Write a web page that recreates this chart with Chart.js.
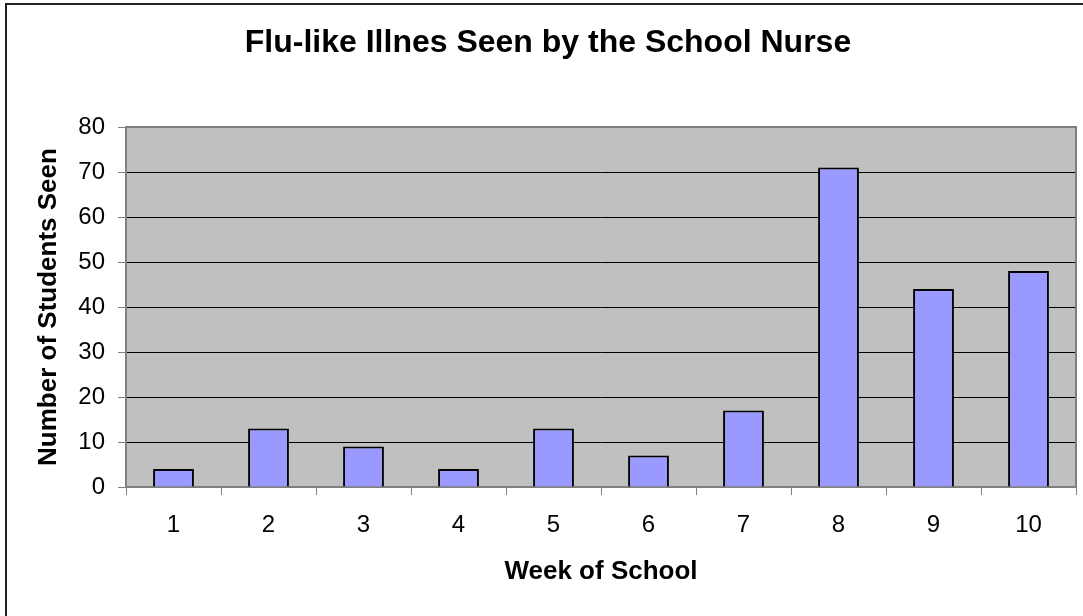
<!DOCTYPE html>
<html>
<head>
<meta charset="utf-8">
<script src="https://cdn.jsdelivr.net/npm/chart.js@4"></script>
<style>
html,body{margin:0;padding:0;background:#fff;overflow:hidden;}
#wrap{position:relative;width:1083px;height:616px;}
#frame{position:absolute;left:5px;top:3px;width:2000px;height:2000px;border:2px solid #222;box-sizing:border-box;pointer-events:none;}
canvas{position:absolute;left:0;top:0;}
</style>
</head>
<body>
<div id="wrap">
<canvas id="c" width="1083" height="616"></canvas>
<div id="frame"></div>
</div>
<script>
const weeks = ['1','2','3','4','5','6','7','8','9','10'];
const studentsSeen = [4, 13, 9, 4, 13, 7, 17, 71, 44, 48];
const yTicks = [0, 10, 20, 30, 40, 50, 60, 70, 80];

const FONT = "'Liberation Sans', Arial, sans-serif";

const plotBg = {
  id: 'plotBg',
  beforeDraw(chart) {
    const {ctx, chartArea: a} = chart;
    ctx.save();
    ctx.fillStyle = '#C0C0C0';
    ctx.fillRect(a.left, a.top, a.right - a.left, a.bottom - a.top);
    ctx.restore();
  },
  afterDatasetsDraw(chart) {
    const {ctx, chartArea: a} = chart;
    ctx.save();
    ctx.strokeStyle = '#808080';
    ctx.lineWidth = 2;
    ctx.beginPath();
    ctx.moveTo(a.left, a.top);
    ctx.lineTo(a.right, a.top);
    ctx.lineTo(a.right, a.bottom);
    ctx.stroke();
    ctx.restore();
  }
};

new Chart(document.getElementById('c'), {
  type: 'bar',
  data: {
    labels: weeks,
    datasets: [{
      data: studentsSeen,
      backgroundColor: '#9999FF',
      borderColor: '#000000',
      borderWidth: 2,
      barPercentage: 0.43,
      categoryPercentage: 1.0
    }]
  },
  options: {
    responsive: false,
    animation: false,
    devicePixelRatio: 1,
    layout: { padding: { left: 20, right: 7, top: 0, bottom: 0 } },
    plugins: {
      legend: { display: false },
      tooltip: { enabled: false },
      title: {
        display: true,
        text: 'Flu-like Illnes Seen by the School Nurse',
        color: '#000',
        font: { family: FONT, size: 32, weight: 'bold' },
        padding: { top: 24, bottom: 64.6 }
      }
    },
    scales: {
      x: {
        offset: true,
        grid: {
          offset: true,
          drawOnChartArea: false,
          drawTicks: true,
          tickLength: 8,
          color: '#808080',
          lineWidth: 1
        },
        border: { display: true, color: '#808080', width: 2 },
        ticks: {
          color: '#000',
          font: { family: FONT, size: 24 },
          padding: 16,
          maxRotation: 0
        },
        title: {
          display: true,
          text: 'Week of School',
          color: '#000',
          font: { family: FONT, size: 26, weight: 'bold' },
          padding: { top: 0, bottom: 29 }
        },
        afterFit(scale) { scale.height = 129; }
      },
      y: {
        min: 0,
        max: 80,
        afterBuildTicks(scale) { scale.ticks = yTicks.map(v => ({ value: v })); },
        grid: {
          color: ctx => (ctx.tick && (ctx.tick.value === 80 || ctx.tick.value === 0)) ? '#808080' : '#000000',
          lineWidth: 1,
          drawTicks: true,
          tickLength: 8,
          tickColor: '#808080'
        },
        border: { display: true, color: '#808080', width: 2 },
        ticks: {
          color: '#000',
          font: { family: FONT, size: 24 },
          padding: 13
        },
        title: {
          display: true,
          text: 'Number of Students Seen',
          color: '#000',
          font: { family: FONT, size: 26, weight: 'bold' },
          padding: { top: 13, bottom: 0 }
        },
        afterFit(scale) { scale.width = 106; }
      }
    }
  },
  plugins: [plotBg]
});
</script>
</body>
</html>
